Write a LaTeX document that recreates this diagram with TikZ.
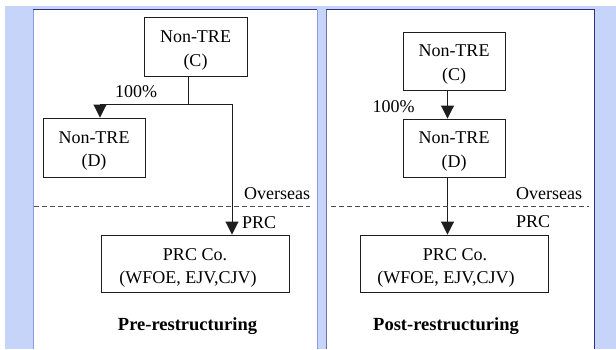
\documentclass[tikz,border=0pt]{standalone}
\usepackage{fontspec}
\setmainfont{Liberation Serif}
\usetikzlibrary{arrows.meta}
\definecolor{bgblue}{HTML}{C6D4FA}
\definecolor{navy}{HTML}{2E3280}
\definecolor{lightedge}{HTML}{8F9BE0}
\definecolor{boxline}{HTML}{1E1E1E}
\tikzset{
  ebox/.style={draw=boxline, line width=0.9pt, fill=white, minimum width=#1, inner sep=0pt},
  ebox/.default=102pt,
  txt/.style={font=\fontsize{18}{22}\selectfont, inner sep=0pt, anchor=base, text=black},
  ttl/.style={font=\fontsize{18.5}{22}\selectfont\bfseries, inner sep=0pt, anchor=base, text=black},
  conn/.style={draw=boxline, line width=0.9pt},
  arr/.style={conn, -{Triangle[width=13pt,length=13pt]}},
  sep/.style={draw=black!70, line width=0.9pt, dash pattern=on 5pt off 3pt}
}
\begin{document}
\begin{tikzpicture}[x=1pt,y=-1pt]
\useasboundingbox (0,0) rectangle (616,349);
% background
\fill[white] (0,0) rectangle (616,349);
\fill[bgblue] (5,6) rectangle (616,349);
% panels
\fill[white] (33,9.5) rectangle (317,349);
\fill[white] (326,9.5) rectangle (594,349);
\draw[lightedge, line width=1pt] (33,349) -- (33,9.5);
\draw[navy, line width=1pt] (33,9.5) -- (317,9.5);
\draw[lightedge, line width=1pt] (317,9.5) -- (317,349);
\draw[navy!70, line width=1pt] (326,349) -- (326,9.5);
\draw[navy, line width=1pt] (326,9.5) -- (594,9.5) -- (594,349);

% ---------- Pre-restructuring ----------
\node[ebox=103pt, minimum height=59pt] (LC) at (195.5,46.5) {};
\node[txt] (LCa) at (195.5,42.7) {Non-TRE};
\node[txt] (LCb) at (195.5,66.5) {(C)};
\node[ebox=102pt, minimum height=59pt] (LD) at (94,147.5) {};
\node[txt] (LDa) at (94,143.5) {Non-TRE};
\node[txt] (LDb) at (94,166.5) {(D)};
\node[ebox=188pt, minimum height=57pt] (LP) at (195,263.5) {};
\node[txt] (LPa) at (195,260) {PRC Co.};
\node[txt] (LPb) at (188,283.3) {(WFOE, EJV,CJV)};

\coordinate (jC) at (188,104);
\coordinate (jL) at (100,104);
\coordinate (jR) at (232,104);
\draw[conn] (LC.south -| jC) -- (jC);
\draw[arr] (jC) -- (jL) -- (LD.north -| jL);
\draw[arr] (jC) -- (jR) -- (LP.north -| jR);

\node[txt] (L100) at (136,97.5) {100\%};
\coordinate (Ls1) at (33.5,206);
\coordinate (Ls2) at (310,206);
\draw[sep] (Ls1) -- (Ls2);
\node[txt, anchor=base west] (LOv) at (244,199.3) {Overseas};
\node[txt, anchor=base west] (LPRC) at (242,228) {PRC};
\node[ttl] (LT) at (187.5,330) {Pre-restructuring};

% ---------- Post-restructuring ----------
\node[ebox=102pt, minimum height=58pt] (RC) at (454,61) {};
\node[txt] (RCa) at (454,56.8) {Non-TRE};
\node[txt] (RCb) at (454,80.2) {(C)};
\node[ebox=102pt, minimum height=58pt] (RD) at (454,148) {};
\node[txt] (RDa) at (454,143.8) {Non-TRE};
\node[txt] (RDb) at (454,167) {(D)};
\node[ebox=188pt, minimum height=57pt] (RP) at (454,263.5) {};
\node[txt] (RPa) at (455,260) {PRC Co.};
\node[txt] (RPb) at (446,283.3) {(WFOE, EJV,CJV)};

\coordinate (rx) at (447.5,0);
\draw[arr] (RC.south -| rx) -- (RD.north -| rx);
\draw[arr] (RD.south -| rx) -- (RP.north -| rx);

\node[txt] (R100) at (393.5,112.7) {100\%};
\coordinate (Rs1) at (331,206);
\coordinate (Rs2) at (589,206);
\draw[sep] (Rs1) -- (Rs2);
\node[txt, anchor=base west] (ROv) at (516,199.8) {Overseas};
\node[txt, anchor=base west] (RPRC) at (516,227.7) {PRC};
\node[ttl] (RT) at (446,330) {Post-restructuring};
\end{tikzpicture}
\end{document}
